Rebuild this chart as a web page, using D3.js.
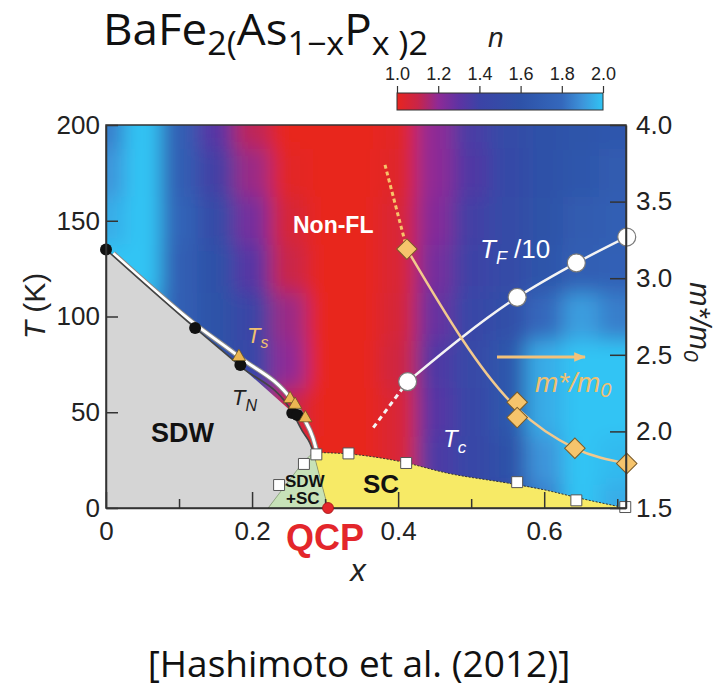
<!DOCTYPE html>
<html>
<head>
<meta charset="utf-8">
<script src="https://cdn.jsdelivr.net/npm/d3@7"></script>
<style>
  body { margin: 0; background: #fff; }
  svg { display: block; }
</style>
</head>
<body>
<div id="chart"></div>
<script>
// Exponent n map (rows = T, columns = x)
var gridX = [0, 0.05, 0.1, 0.15, 0.2, 0.25, 0.3, 0.35, 0.4, 0.45, 0.5, 0.55, 0.6, 0.65, 0.7];
var gridT = [200, 175, 150, 125, 100, 75, 50, 25, 0];
var gridN = [
  [1.85, 2.0, 1.72, 1.32, 1.12, 1.0, 1.0, 1.0, 1.02, 1.2, 1.36, 1.5, 1.58, 1.62, 1.65],
  [1.9, 2.0, 1.72, 1.38, 1.18, 1.02, 1.0, 1.0, 1.03, 1.2, 1.34, 1.48, 1.58, 1.64, 1.68],
  [1.95, 2.0, 1.75, 1.5, 1.25, 1.06, 1.0, 1.0, 1.05, 1.22, 1.38, 1.5, 1.6, 1.68, 1.72],
  [2.0, 2.0, 1.72, 1.58, 1.32, 1.1, 1.0, 1.0, 1.05, 1.25, 1.4, 1.52, 1.62, 1.72, 1.74],
  [2.0, 1.95, 1.72, 1.6, 1.42, 1.18, 1.0, 1.0, 1.06, 1.28, 1.45, 1.56, 1.8, 1.92, 1.85],
  [2.0, 1.9, 1.7, 1.6, 1.45, 1.2, 1.0, 1.0, 1.08, 1.34, 1.46, 1.64, 1.95, 2.0, 2.0],
  [2.0, 1.9, 1.7, 1.6, 1.45, 1.1, 1.0, 1.0, 1.05, 1.32, 1.45, 1.64, 1.95, 2.0, 2.0],
  [2.0, 1.9, 1.7, 1.6, 1.45, 1.05, 1.0, 1.0, 1.05, 1.35, 1.45, 1.58, 1.9, 2.0, 1.98],
  [2.0, 1.9, 1.7, 1.6, 1.45, 1.05, 1.0, 1.0, 1.05, 1.35, 1.45, 1.52, 1.85, 2.0, 1.95]
];

// Colour bar
var nStops = [1.0, 1.1, 1.2, 1.3, 1.4, 1.6, 1.8, 1.9, 2.0];
var nColors = ["#e8251f", "#c92548", "#8e2a96", "#5e33a3", "#3c43a6", "#2e52a8", "#3468bc", "#3d94da", "#30c4f4"];
var nTicks = [1.0, 1.2, 1.4, 1.6, 1.8, 2.0];

// Axes
var xTicks = [0, 0.1, 0.2, 0.3, 0.4, 0.5, 0.6, 0.7];
var xLabels = [0, 0.2, 0.4, 0.6];
var tTicks = [0, 50, 100, 150, 200];
var mTicks = [1.5, 2.0, 2.5, 3.0, 3.5, 4.0];

// Phase boundaries
var tnLineX = [0, 0.122, 0.184, 0.255, 0.269, 0.279, 0.284];
var tnLineT = [135, 94, 74, 50, 40, 34, 29];
var tsLineX = [0.01, 0.122, 0.184, 0.255, 0.272, 0.283, 0.289];
var tsLineT = [133, 96, 78.5, 56, 46, 37, 29];
var mixX = [0.284, 0.27, 0.222, 0.304];
var mixT = [29, 24, 0, 0];
var domeX = [0.284, 0.33, 0.40, 0.47, 0.55, 0.60, 0.65, 0.712];
var domeT = [29, 28.3, 24.5, 18, 13, 9.5, 5, 0];

// Points
var tnX = [0, 0.122, 0.184, 0.255, 0.262];
var tnT = [135, 94, 74.7, 49.6, 48.6];
var tsX = [0.182, 0.252, 0.259, 0.273];
var tsT = [79, 57, 54, 47];
var tcX = [0.237, 0.271, 0.288, 0.332, 0.411, 0.563, 0.644, 0.711];
var tcT = [12, 23, 28, 28.5, 23.5, 13.5, 4, 0.5];
var tfX = [0.413, 0.563, 0.644, 0.713];
var tfT = [66, 110, 128, 141.5];
var tfDashX = [0.366, 0.413];
var tfDashT = [42, 66];
var mX = [0.412, 0.563, 0.563, 0.642, 0.713];
var mM = [3.19, 2.19, 2.09, 1.89, 1.79];
var mLineX = [0.412, 0.563, 0.642, 0.713];
var mLineM = [3.19, 2.15, 1.89, 1.79];
var mDashX = [0.382, 0.412];
var mDashM = [3.74, 3.19];
var qcpX = 0.304;

var W = 715, H = 697,
    box = {left: 106, right: 626, top: 125, bottom: 508},
    font = "'Liberation Sans', Arial, Helvetica, sans-serif";

var x = d3.scaleLinear().domain([0, 0.712]).range([box.left, box.right]),
    yT = d3.scaleLinear().domain([0, 200]).range([box.bottom, box.top]),
    yM = d3.scaleLinear().domain([1.5, 4.0]).range([box.bottom, box.top]),
    nColor = d3.scaleLinear().domain(nStops).range(nColors).clamp(true);

var svg = d3.select("#chart").append("svg")
  .attr("width", W)
  .attr("height", H)
  .style("font-family", font);

var defs = svg.append("defs");

defs.append("clipPath").attr("id", "plotClip")
  .append("rect")
    .attr("x", box.left).attr("y", box.top)
    .attr("width", box.right - box.left).attr("height", box.bottom - box.top);

defs.append("filter")
  .attr("id", "smooth")
  .attr("filterUnits", "userSpaceOnUse")
  .attr("x", 0).attr("y", 0).attr("width", W).attr("height", H)
  .append("feGaussianBlur")
    .attr("stdDeviation", 10);

// Heat map cells
var cells = [];
gridT.forEach(function(t, r) {
  gridX.forEach(function(xv, c) {
    var x0 = c == 0 ? xv - 0.1 : (gridX[c - 1] + xv) / 2,
        x1 = c == gridX.length - 1 ? xv + 0.1 : (xv + gridX[c + 1]) / 2,
        t1 = r == 0 ? t + 40 : (gridT[r - 1] + t) / 2,
        t0 = r == gridT.length - 1 ? t - 40 : (t + gridT[r + 1]) / 2;
    cells.push({x0: x0, x1: x1, t0: t0, t1: t1, n: gridN[r][c]});
  });
});

svg.append("g")
  .attr("clip-path", "url(#plotClip)")
  .append("g")
    .attr("filter", "url(#smooth)")
    .selectAll("rect")
    .data(cells)
    .enter().append("rect")
      .attr("x", function(d) { return x(d.x0); })
      .attr("y", function(d) { return yT(d.t1); })
      .attr("width", function(d) { return x(d.x1) - x(d.x0) + 1; })
      .attr("height", function(d) { return yT(d.t0) - yT(d.t1) + 1; })
      .attr("fill", function(d) { return nColor(d.n); });

var plot = svg.append("g").attr("clip-path", "url(#plotClip)");
var lineT = d3.line().x(function(d) { return x(d[0]); }).y(function(d) { return yT(d[1]); });

// SDW region
var sdwPts = [[0, 0]].concat(tnLineX.map(function(d, i) { return [d, tnLineT[i]]; }));
sdwPts.push([mixX[2], 0]);
plot.append("path")
  .attr("d", lineT(sdwPts) + "Z")
  .attr("fill", "#d5d5d5");

// SC dome
var domePts = domeX.map(function(d, i) { return [d, domeT[i]]; });
var domeLine = d3.line().curve(d3.curveMonotoneX)
  .x(function(d) { return x(d[0]); }).y(function(d) { return yT(d[1]); });
plot.append("path")
  .attr("d", domeLine(domePts) + "L" + x(mixX[3]) + "," + yT(0) + "Z")
  .attr("fill", "#f7ea66");
plot.append("path")
  .attr("d", domeLine(domePts))
  .attr("fill", "none")
  .attr("stroke", "#333")
  .attr("stroke-width", 1)
  .attr("stroke-dasharray", "2,1.5");

// SDW + SC region
plot.append("path")
  .attr("d", lineT(mixX.map(function(d, i) { return [d, mixT[i]]; })) + "Z")
  .attr("fill", "#c7e2b8")
  .attr("stroke", "#6a8a5a")
  .attr("stroke-width", 0.6);

// Ts and TN lines
var tLine = d3.line().curve(d3.curveMonotoneX)
  .x(function(d) { return x(d[0]); }).y(function(d) { return yT(d[1]); });
var tsPts = tsLineX.map(function(d, i) { return [d, tsLineT[i]]; });
plot.append("path").attr("d", tLine(tsPts))
  .attr("fill", "none").attr("stroke", "#8a8a8a").attr("stroke-width", 5);
plot.append("path").attr("d", tLine(tsPts))
  .attr("fill", "none").attr("stroke", "#fff").attr("stroke-width", 3);
plot.append("path").attr("d", tLine(tnLineX.map(function(d, i) { return [d, tnLineT[i]]; })))
  .attr("fill", "none").attr("stroke", "#444").attr("stroke-width", 1.6);

// TF/10 line
plot.append("path")
  .attr("d", tLine(tfX.map(function(d, i) { return [d, tfT[i]]; })))
  .attr("fill", "none").attr("stroke", "#f4f4f4").attr("stroke-width", 2.5);
plot.append("path")
  .attr("d", tLine(tfDashX.map(function(d, i) { return [d, tfDashT[i]]; })))
  .attr("fill", "none").attr("stroke", "#f4f4f4").attr("stroke-width", 3)
  .attr("stroke-dasharray", "5,4");

// m*/m0 line
var mLine = d3.line().curve(d3.curveMonotoneX)
  .x(function(d) { return x(d[0]); }).y(function(d) { return yM(d[1]); });
plot.append("path")
  .attr("d", mLine(mLineX.map(function(d, i) { return [d, mLineM[i]]; })))
  .attr("fill", "none").attr("stroke", "#f2c98e").attr("stroke-width", 2.5);
plot.append("path")
  .attr("d", mLine(mDashX.map(function(d, i) { return [d, mDashM[i]]; })))
  .attr("fill", "none").attr("stroke", "#f7c46a").attr("stroke-width", 3)
  .attr("stroke-dasharray", "4,3");

// Markers
svg.append("g").selectAll("path")
  .data(tcX)
  .enter().append("path")
    .attr("d", d3.symbol(d3.symbolSquare, 120))
    .attr("transform", function(d, i) { return "translate(" + x(d) + "," + yT(tcT[i]) + ")"; })
    .attr("fill", "#fff").attr("stroke", "#555").attr("stroke-width", 1);

svg.append("g").selectAll("circle")
  .data(tnX)
  .enter().append("circle")
    .attr("cx", function(d) { return x(d); })
    .attr("cy", function(d, i) { return yT(tnT[i]); })
    .attr("r", 6)
    .attr("fill", "#111");

svg.append("g").selectAll("path")
  .data(tsX)
  .enter().append("path")
    .attr("d", d3.symbol(d3.symbolTriangle, 75))
    .attr("transform", function(d, i) { return "translate(" + x(d) + "," + yT(tsT[i]) + ")"; })
    .attr("fill", "#ebb653").attr("stroke", "#6a5520").attr("stroke-width", 0.8);

svg.append("g").selectAll("circle")
  .data(tfX)
  .enter().append("circle")
    .attr("cx", function(d) { return x(d); })
    .attr("cy", function(d, i) { return yT(tfT[i]); })
    .attr("r", 9)
    .attr("fill", "#fff").attr("stroke", "#7a7a7a").attr("stroke-width", 1.2);

svg.append("g").selectAll("path")
  .data(mX)
  .enter().append("path")
    .attr("d", d3.symbol(d3.symbolSquare, 210))
    .attr("transform", function(d, i) { return "translate(" + x(d) + "," + yM(mM[i]) + ") rotate(45)"; })
    .attr("fill", "#f6c46c").attr("stroke", "#7a5a28").attr("stroke-width", 1);

// Frame
svg.append("rect")
  .attr("x", box.left).attr("y", box.top)
  .attr("width", box.right - box.left).attr("height", box.bottom - box.top)
  .attr("fill", "none").attr("stroke", "#333").attr("stroke-width", 1.5);

// Axes
var gx = svg.append("g")
  .attr("transform", "translate(0," + box.bottom + ")")
  .call(d3.axisBottom(x).tickValues(xTicks).tickSize(-9).tickSizeOuter(0).tickPadding(14)
    .tickFormat(function(d) { return xLabels.indexOf(d) != -1 ? (d == 0 ? "0" : d3.format(".1f")(d)) : ""; }));
gx.selectAll(".tick line")
  .attr("y2", function(d) { return xLabels.indexOf(d) != -1 ? -16 : -9; });

var gy = svg.append("g")
  .attr("transform", "translate(" + box.left + ",0)")
  .call(d3.axisLeft(yT).tickValues(tTicks).tickSize(-12).tickSizeOuter(0).tickPadding(6));

var gm = svg.append("g")
  .attr("transform", "translate(" + box.right + ",0)")
  .call(d3.axisRight(yM).tickValues(mTicks).tickSize(-16).tickSizeOuter(0).tickPadding(10)
    .tickFormat(d3.format(".1f")));

[gx, gy, gm].forEach(function(g) {
  g.select(".domain").attr("stroke", "#333").attr("stroke-width", 1.5);
  g.selectAll(".tick line").attr("stroke", "#333").attr("stroke-width", 1.5);
  g.selectAll(".tick text")
    .attr("fill", "#222")
    .attr("font-family", font)
    .attr("font-size", 26);
});

// QCP point
svg.append("circle")
  .attr("cx", x(qcpX)).attr("cy", yT(0)).attr("r", 5.5)
  .attr("fill", "#e3262b").attr("stroke", "#a01515").attr("stroke-width", 0.8);

// Colour bar
var cbX = d3.scaleLinear().domain([1, 2]).range([397, 603]);
var grad = defs.append("linearGradient").attr("id", "nGrad");
grad.selectAll("stop")
  .data(nStops)
  .enter().append("stop")
    .attr("offset", function(d) { return ((d - 1) * 100) + "%"; })
    .attr("stop-color", function(d, i) { return nColors[i]; });
svg.append("rect")
  .attr("x", cbX(1)).attr("y", 93)
  .attr("width", cbX(2) - cbX(1)).attr("height", 17)
  .attr("fill", "url(#nGrad)")
  .attr("stroke", "#333").attr("stroke-width", 1);
var gcb = svg.append("g")
  .attr("transform", "translate(0,93)")
  .call(d3.axisTop(cbX).tickValues(nTicks).tickSize(7).tickSizeOuter(0).tickPadding(6)
    .tickFormat(d3.format(".1f")));
gcb.select(".domain").remove();
gcb.selectAll(".tick line").attr("stroke", "#333").attr("stroke-width", 1.2);
gcb.selectAll(".tick text").attr("fill", "#222").attr("font-family", font).attr("font-size", 18);

svg.append("text")
  .attr("x", 488).attr("y", 47)
  .attr("font-size", 28).attr("font-style", "italic").attr("fill", "#222")
  .text("n");

// Axis titles
var tLab = svg.append("text")
  .attr("transform", "translate(45,306) rotate(-90)")
  .attr("text-anchor", "middle")
  .attr("font-size", 30).attr("fill", "#222");
tLab.append("tspan").attr("font-style", "italic").text("T");
tLab.append("tspan").text(" (K)");

var mLab = svg.append("text")
  .attr("transform", "translate(690,322) rotate(90)")
  .attr("text-anchor", "middle")
  .attr("font-size", 29).attr("font-style", "italic").attr("fill", "#222");
mLab.append("tspan").text("m*/m");
mLab.append("tspan").attr("font-size", 21).attr("dy", 6).text("0");

svg.append("text")
  .attr("x", 358).attr("y", 581)
  .attr("text-anchor", "middle")
  .attr("font-size", 31).attr("font-style", "italic").attr("fill", "#222")
  .text("x");

svg.append("text")
  .attr("x", 325).attr("y", 550)
  .attr("text-anchor", "middle")
  .attr("font-size", 36).attr("font-weight", "bold").attr("fill", "#e3262b")
  .text("QCP");

// Labels in the plot
svg.append("text")
  .attr("x", 293).attr("y", 233)
  .attr("font-size", 23).attr("font-weight", "bold").attr("fill", "#fff")
  .text("Non-FL");

var tfLab = svg.append("text")
  .attr("x", 480).attr("y", 258)
  .attr("font-size", 26).attr("fill", "#fff");
tfLab.append("tspan").attr("font-style", "italic").text("T");
tfLab.append("tspan").attr("font-style", "italic").attr("font-size", 18).attr("dy", 6).text("F");
tfLab.append("tspan").attr("dy", -6).text(" /10");

var tsLab = svg.append("text")
  .attr("x", 247).attr("y", 343)
  .attr("font-size", 22).attr("font-style", "italic").attr("fill", "#f0c070");
tsLab.append("tspan").text("T");
tsLab.append("tspan").attr("font-size", 16).attr("dy", 5).text("s");

var tnLab = svg.append("text")
  .attr("x", 232).attr("y", 405)
  .attr("font-size", 22).attr("font-style", "italic").attr("fill", "#222");
tnLab.append("tspan").text("T");
tnLab.append("tspan").attr("font-size", 16).attr("dy", 6).text("N");

var tcLab = svg.append("text")
  .attr("x", 443).attr("y", 447)
  .attr("font-size", 24).attr("font-style", "italic").attr("fill", "#fff");
tcLab.append("tspan").text("T");
tcLab.append("tspan").attr("font-size", 17).attr("dy", 6).text("c");

svg.append("text")
  .attr("x", 151).attr("y", 442)
  .attr("font-size", 27).attr("font-weight", "bold").attr("fill", "#111")
  .text("SDW");

svg.append("text")
  .attr("x", 285).attr("y", 487)
  .attr("font-size", 17).attr("font-weight", "bold").attr("fill", "#111")
  .text("SDW");
svg.append("text")
  .attr("x", 286).attr("y", 504)
  .attr("font-size", 17).attr("font-weight", "bold").attr("fill", "#111")
  .text("+SC");

svg.append("text")
  .attr("x", 363).attr("y", 493)
  .attr("font-size", 26).attr("font-weight", "bold").attr("fill", "#111")
  .text("SC");

// m*/m0 arrow and label
defs.append("marker")
  .attr("id", "head")
  .attr("viewBox", "0 0 10 10")
  .attr("refX", 9).attr("refY", 5)
  .attr("markerWidth", 4).attr("markerHeight", 4)
  .attr("orient", "auto")
  .append("path")
    .attr("d", "M0,1L10,5L0,9Z")
    .attr("fill", "#f2c27a");
svg.append("line")
  .attr("x1", 497).attr("y1", 357).attr("x2", 585).attr("y2", 357)
  .attr("stroke", "#f2c27a").attr("stroke-width", 3)
  .attr("marker-end", "url(#head)");

var mPlotLab = svg.append("text")
  .attr("x", 535).attr("y", 392)
  .attr("font-size", 28).attr("font-style", "italic").attr("fill", "#f0c070");
mPlotLab.append("tspan").text("m*/m");
mPlotLab.append("tspan").attr("font-size", 20).attr("dy", 5).text("0");

// Title
var title = svg.append("text")
  .attr("x", 103).attr("y", 45)
  .attr("font-family", "'Open Sans', 'Noto Sans', sans-serif")
  .attr("font-size", 43).attr("fill", "#111");
title.append("tspan").text("BaFe");
title.append("tspan").attr("font-size", 32).attr("dy", 10).text("2(");
title.append("tspan").attr("dy", -10).text("As");
title.append("tspan").attr("font-size", 32).attr("dy", 10).text("1\u2212x");
title.append("tspan").attr("dy", -10).text("P");
title.append("tspan").attr("font-size", 32).attr("dy", 10).text("x )2");
var tw = title.node().getBBox().width;
title.attr("transform", "translate(103,0) scale(" + (325 / tw) + ",1) translate(-103,0)");

svg.append("text")
  .attr("x", 359).attr("y", 677)
  .attr("text-anchor", "middle")
  .attr("font-family", "'Open Sans', 'Noto Sans', sans-serif")
  .attr("font-size", 37).attr("fill", "#111")
  .text("[Hashimoto et al. (2012)]");
</script>
</body>
</html>
